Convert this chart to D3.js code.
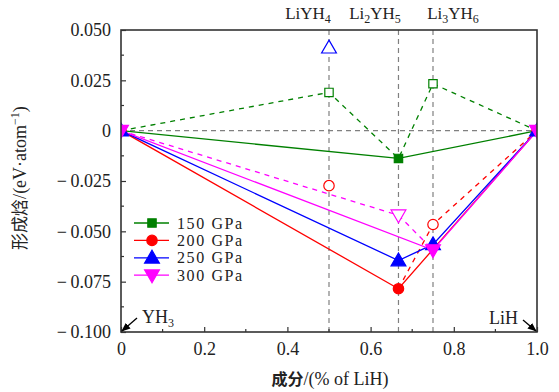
<!DOCTYPE html>
<html><head><meta charset="utf-8">
<script src="https://cdn.jsdelivr.net/npm/d3@7"></script>
<style>body{margin:0;background:#fff}svg{display:block}</style>
</head><body><svg id="c" width="559" height="392"></svg>
<script>
// ---- data ----
const pressures = ["150 GPa","200 GPa","250 GPa","300 GPa"];
const colors = ["#008000","#ff0000","#0000ff","#ff00ff"];
const markers = ["square","circle","triangle","triangleDown"];
// stable hull (solid lines, filled markers)
const stableX = [[0,0.667,1],[0,0.667,1],[0,0.667,0.75,1],[0,0.75,1]];
const stableY = [[0,-0.0138,0],[0,-0.0785,0],[0,-0.0645,-0.0565,0],[0,-0.0593,0]];
// dashed connections
const dashX = [[0,0.5,0.667,0.75,1],[0.667,0.75,1],[],[0,0.667,0.75]];
const dashY = [[0,0.019,-0.0138,0.0233,0],[-0.0785,-0.0466,0],[],[0,-0.042,-0.0593]];
// metastable (open markers)
const openX = [[0.5,0.75],[0.5,0.75],[0.5],[0.667]];
const openY = [[0.019,0.0233],[-0.0273,-0.0466],[0.0412],[-0.042]];
const xTicks = [0,0.2,0.4,0.6,0.8,1.0];
const xTickLabels = ["0","0.2","0.4","0.6","0.8","1.0"];
const yTicks = [0.05,0.025,0,-0.025,-0.05,-0.075,-0.1];
const yTickLabels = ["0.050","0.025","0","\u2212\u20090.025","\u2212\u20090.050","\u2212\u20090.075","\u2212\u20090.100"];
const phaseX = [0.5,0.667,0.75];
const phaseNames = [["LiYH","4"],["Li","2","YH","5"],["Li","3","YH","6"]];

const svg = d3.select("#c");
const L=121,R=537,T=30,B=332;
const x = d3.scaleLinear().domain([0,1]).range([L,R]);
const y = d3.scaleLinear().domain([-0.1,0.05]).range([B,T]);
const serif = "'Liberation Serif', 'Times New Roman', serif";
const cjk = "'Noto Sans CJK SC', 'Noto Sans CJK JP', sans-serif";

// reference lines
const g0 = svg.append("g").attr("stroke","#808080").attr("stroke-width",1.2).attr("stroke-dasharray","5,4").attr("fill","none");
g0.append("line").attr("x1",L).attr("x2",R).attr("y1",y(0)).attr("y2",y(0));
phaseX.forEach(p=>g0.append("line").attr("x1",x(p)).attr("x2",x(p)).attr("y1",T).attr("y2",B));

// axes
const yAxis = d3.axisLeft(y).tickValues(yTicks).tickFormat((d,i)=>yTickLabels[i]).tickSize(-5).tickPadding(10);
const xAxis = d3.axisBottom(x).tickValues(xTicks).tickFormat((d,i)=>xTickLabels[i]).tickSize(-5).tickPadding(10);
const ya = svg.append("g").attr("transform",`translate(${L},0)`).call(yAxis);
const xa = svg.append("g").attr("transform",`translate(0,${B})`).call(xAxis);
[ya,xa].forEach(a=>{a.attr("font-family",null).attr("font-size",null);a.select(".domain").remove();a.selectAll("line").attr("stroke","#333").attr("stroke-width",1.2);
  a.selectAll("text").style("font-family",serif).style("font-size","18px").attr("fill","#222");});
// minor ticks
const yMinor = d3.range(-0.0875,0.05,0.025);
svg.append("g").selectAll("line").data(yMinor).join("line").attr("x1",L).attr("x2",L+3).attr("y1",d=>y(d)).attr("y2",d=>y(d)).attr("stroke","#333").attr("stroke-width",1.2);
const xMinor = d3.range(0.1,1,0.2);
svg.append("g").selectAll("line").data(xMinor).join("line").attr("y1",B).attr("y2",B-3).attr("x1",d=>x(d)).attr("x2",d=>x(d)).attr("stroke","#333").attr("stroke-width",1.2);

// marker helper
function sym(type,size){
  const m={square:d3.symbolSquare,circle:d3.symbolCircle,triangle:d3.symbolTriangle,triangleDown:d3.symbolTriangle}[type];
  return d3.symbol().type(m).size(size)();
}
function drawMarker(g,type,cx,cy,col,filled){
  const sz = type==="square"?70:(type==="circle"?85:95);
  const rot = type==="triangleDown"?180:0;
  const dy = type==="triangle"?1:(type==="triangleDown"?-1:0);
  g.append("path").attr("d",sym(type,sz)).attr("transform",`translate(${cx},${cy+dy}) rotate(${rot})`)
   .attr("fill",filled?col:"#fff").attr("stroke",col).attr("stroke-width",1.2);
}
svg.append("defs").append("clipPath").attr("id","clip").append("rect").attr("x",L).attr("y",T).attr("width",R-L).attr("height",B-T);
const line = d3.line().x(d=>x(d[0])).y(d=>y(d[1]));
const plot = svg.append("g").attr("clip-path","url(#clip)");
pressures.forEach((p,i)=>{
  if(dashX[i].length) plot.append("path").attr("d",line(d3.zip(dashX[i],dashY[i]))).attr("fill","none").attr("stroke",colors[i]).attr("stroke-width",1.3).attr("stroke-dasharray","5,5");
});
pressures.forEach((p,i)=>{
  plot.append("path").attr("d",line(d3.zip(stableX[i],stableY[i]))).attr("fill","none").attr("stroke",colors[i]).attr("stroke-width",1.3);
});
pressures.forEach((p,i)=>{
  openX[i].forEach((v,j)=>drawMarker(plot,markers[i],x(v),y(openY[i][j]),colors[i],false));
  stableX[i].forEach((v,j)=>drawMarker(plot,markers[i],x(v),y(stableY[i][j]),colors[i],true));
});
// frame
svg.append("rect").attr("x",L).attr("y",T).attr("width",R-L).attr("height",B-T).attr("fill","none").attr("stroke","#333").attr("stroke-width",1.6);

// phase labels
const phasePos=[308,375,453];
phaseNames.forEach((n,i)=>{
  const t=svg.append("text").attr("x",phasePos[i]).attr("y",19).attr("text-anchor","middle").style("font-family",serif).style("font-size","17px").attr("fill","#222");
  if(i===0){t.append("tspan").text(n[0]);t.append("tspan").style("font-size","12px").attr("dy",4).text(n[1]);}
  else{t.append("tspan").text(n[0]);t.append("tspan").style("font-size","12px").attr("dy",4).text(n[1]);
    t.append("tspan").attr("dy",-4).text(n[2]);t.append("tspan").style("font-size","12px").attr("dy",4).text(n[3]);}
});

// legend
const lg = svg.append("g");
pressures.forEach((p,i)=>{
  const yy=223+i*17.4;
  lg.append("line").attr("x1",134).attr("x2",169).attr("y1",yy).attr("y2",yy).attr("stroke",colors[i]).attr("stroke-width",1.3);
  drawMarker(lg,markers[i],152,yy,colors[i],true);
  lg.append("text").attr("x",177).attr("y",yy+5.5).style("font-family",serif).style("font-size","16px").style("letter-spacing","1.6px").attr("fill","#222").text(p);
});

// end annotations
const defs=svg.select("defs");
defs.append("marker").attr("id","ah").attr("viewBox","0 0 10 10").attr("refX",9).attr("refY",5).attr("markerWidth",7).attr("markerHeight",7).attr("orient","auto")
  .append("path").attr("d","M0,1 L10,5 L0,9 z").attr("fill","#000");
svg.append("line").attr("x1",137).attr("y1",318).attr("x2",122).attr("y2",331).attr("stroke","#000").attr("stroke-width",1.3).attr("marker-end","url(#ah)");
const yh=svg.append("text").attr("x",142).attr("y",323).style("font-family",serif).style("font-size","18px").attr("fill","#222");
yh.append("tspan").text("YH");yh.append("tspan").style("font-size","12px").attr("dy",4).text("3");
svg.append("line").attr("x1",523).attr("y1",320).attr("x2",536).attr("y2",331).attr("stroke","#000").attr("stroke-width",1.3).attr("marker-end","url(#ah)");
svg.append("text").attr("x",518).attr("y",324).attr("text-anchor","end").style("font-family",serif).style("font-size","18px").attr("fill","#222").text("LiH");

// axis titles
const yl = svg.append("text").attr("transform","translate(26,178) rotate(-90)").attr("text-anchor","middle").attr("fill","#222");
yl.append("tspan").style("font-family",cjk).style("font-size","17px").text("形成焓");
yl.append("tspan").style("font-family",serif).style("font-size","18px").text("/(eV\u00b7atom");
yl.append("tspan").style("font-family",serif).style("font-size","12px").attr("dy",-7).text("\u22121");
yl.append("tspan").style("font-family",serif).style("font-size","18px").attr("dy",7).text(")");
const xl = svg.append("text").attr("x",330).attr("y",385).attr("text-anchor","middle").attr("fill","#222");
xl.append("tspan").style("font-family",cjk).style("font-size","16px").style("font-weight","bold").text("成分");
xl.append("tspan").style("font-family",serif).style("font-size","18px").text("/(% of LiH)");
</script></body></html>
